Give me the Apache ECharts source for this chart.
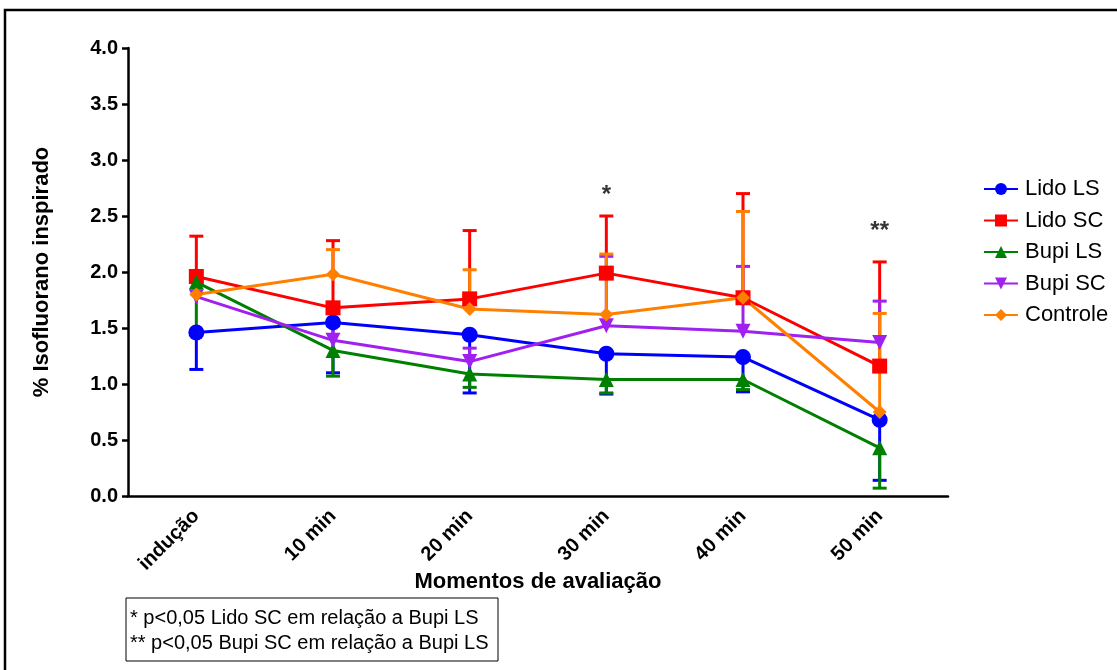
<!DOCTYPE html>
<html>
<head>
<meta charset="utf-8">
<script src="https://cdn.jsdelivr.net/npm/echarts@6/dist/echarts.min.js"></script>
<style>
  html, body { margin: 0; padding: 0; background: #fff; }
  #chart { width: 1117px; height: 670px; }
</style>
</head>
<body>
<div id="chart"></div>
<script>
const categories = ["indução", "10 min", "20 min", "30 min", "40 min", "50 min"];

// means
const lidoLS = [1.46, 1.55, 1.44, 1.27, 1.24, 0.68];
const lidoSC = [1.96, 1.68, 1.76, 1.99, 1.77, 1.16];
const bupiLS = [1.91, 1.30, 1.09, 1.04, 1.04, 0.43];
const bupiSC = [1.78, 1.39, 1.20, 1.52, 1.47, 1.37];
const controle = [1.80, 1.98, 1.67, 1.62, 1.77, 0.75];

// one-sided error bar ends
const lidoLSLow = [1.13, 1.10, 0.92, 0.91, 0.93, 0.14];
const lidoSCHigh = [2.32, 2.28, 2.37, 2.50, 2.70, 2.09];
const bupiLSLow = [1.46, 1.07, 0.97, 0.92, 0.95, 0.07];
const bupiSCHigh = [1.92, 1.52, 1.32, 2.14, 2.05, 1.74];
const controleHigh = [1.95, 2.20, 2.02, 2.16, 2.54, 1.63];

// significance marks: [category, height, text]
const marks = [["30 min", 2.68, "*"], ["50 min", 2.36, "**"]];

const yTicks = { min: 0, max: 4, interval: 0.5 };
const notes = [
  "* p<0,05 Lido SC em relação a Bupi LS",
  "** p<0,05 Bupi SC em relação a Bupi LS"
];

const FONT = "Liberation Sans, Arial, sans-serif";

const groups = [
  { name: "Lido LS", color: "#0000ff", values: lidoLS, ends: lidoLSLow, symbol: "circle", size: 16, rotate: 0 },
  { name: "Lido SC", color: "#ff0000", values: lidoSC, ends: lidoSCHigh, symbol: "rect", size: 15, rotate: 0 },
  { name: "Bupi LS", color: "#008000", values: bupiLS, ends: bupiLSLow, symbol: "triangle", size: 15, rotate: 0 },
  { name: "Bupi SC", color: "#a020f0", values: bupiSC, ends: bupiSCHigh, symbol: "triangle", size: 15, rotate: 180 },
  { name: "Controle", color: "#ff8000", values: controle, ends: controleHigh, symbol: "diamond", size: 14, rotate: 0 }
];

function errorSeries(g) {
  return {
    name: g.name + " err",
    type: "custom",
    silent: true,
    z: 1,
    data: categories.map((c, i) => [i, g.values[i], g.ends[i]]),
    renderItem: (params, api) => {
      const p0 = api.coord([api.value(0), api.value(1)]);
      const p1 = api.coord([api.value(0), api.value(2)]);
      const half = 7;
      const style = { stroke: g.color, lineWidth: 3 };
      return {
        type: "group",
        children: [
          { type: "line", shape: { x1: p0[0], y1: p0[1], x2: p1[0], y2: p1[1] }, style },
          { type: "line", shape: { x1: p1[0] - half, y1: p1[1], x2: p1[0] + half, y2: p1[1] }, style }
        ]
      };
    }
  };
}

const series = [];
groups.forEach(g => series.push(errorSeries(g)));
groups.forEach(g => {
  series.push({
    name: g.name,
    type: "line",
    z: 3,
    data: g.values,
    symbol: g.symbol,
    symbolSize: g.size,
    symbolRotate: g.rotate,
    showAllSymbol: true,
    color: g.color,
    lineStyle: { color: g.color, width: 3 },
    itemStyle: { color: g.color },
    emphasis: { disabled: true }
  });
});

series.push({
  name: "marks",
  type: "scatter",
  symbol: "circle",
  symbolSize: 2,
  silent: true,
  z: 5,
  itemStyle: { color: "rgba(0,0,0,0)" },
  data: marks,
  label: {
    show: true,
    position: "inside",
    formatter: p => p.value[2],
    color: "#000",
    fontSize: 24,
    fontWeight: "bold",
    fontFamily: FONT
  }
});

const chart = echarts.init(document.getElementById("chart"));
chart.setOption({
  animation: false,
  backgroundColor: "#fff",
  grid: { left: 128, right: 169, top: 48, bottom: 174 },
  legend: {
    data: groups.map(g => g.name),
    orient: "vertical",
    left: 978,
    top: 173,
    itemWidth: 34,
    itemHeight: 15,
    itemGap: 9.5,
    textStyle: { color: "#000", fontSize: 22, fontFamily: FONT, padding: [0, 0, 0, 2] }
  },
  xAxis: {
    type: "category",
    data: categories,
    boundaryGap: true,
    name: "Momentos de avaliação",
    nameLocation: "middle",
    nameGap: 75,
    nameMoveOverlap: false,
    nameTextStyle: { color: "#000", fontSize: 22, fontWeight: "bold", fontFamily: FONT },
    axisLine: { lineStyle: { color: "#000", width: 2.5 } },
    axisTick: { alignWithLabel: true, length: 8, lineStyle: { color: "#000", width: 2.5 } },
    axisLabel: { rotate: 45, interval: 0, color: "#000", fontSize: 20, fontWeight: "bold", fontFamily: FONT, margin: 17 },
    splitLine: { show: false }
  },
  yAxis: {
    type: "value",
    min: yTicks.min,
    max: yTicks.max,
    interval: yTicks.interval,
    name: "% Isofluorano inspirado",
    nameLocation: "middle",
    nameGap: 75,
    nameMoveOverlap: false,
    nameTextStyle: { color: "#000", fontSize: 22, fontWeight: "bold", fontFamily: FONT },
    axisLine: { show: true, lineStyle: { color: "#000", width: 2.5 } },
    axisTick: { show: true, length: 6, lineStyle: { color: "#000", width: 2.5 } },
    axisLabel: { formatter: v => v.toFixed(1), color: "#000", fontSize: 20, fontWeight: "bold", fontFamily: FONT, margin: 10 },
    splitLine: { show: false }
  },
  graphic: [
    {
      type: "rect",
      silent: true,
      shape: { x: 5, y: 10, width: 1200, height: 700 },
      style: { fill: "none", stroke: "#000", lineWidth: 2.5 }
    },
    {
      type: "rect",
      silent: true,
      shape: { x: 126, y: 598, width: 372, height: 63 },
      style: { fill: "#fff", stroke: "#000", lineWidth: 1 }
    },
    {
      type: "text",
      silent: true,
      left: 130,
      top: 606,
      style: { text: notes.join("\n"), fill: "#000", fontSize: 20, lineHeight: 25, fontFamily: FONT }
    }
  ],
  series
});
</script>
</body>
</html>
